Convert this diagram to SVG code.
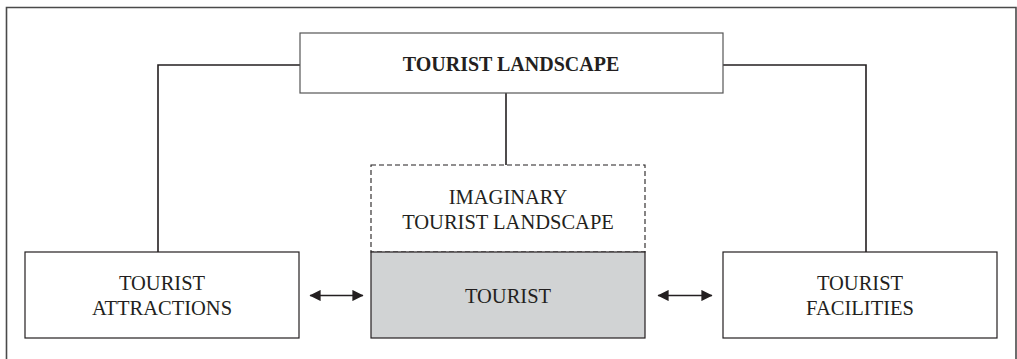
<svg xmlns="http://www.w3.org/2000/svg" width="1017" height="359" viewBox="0 0 1017 359">
<style>
text{font-family:"Liberation Serif","Times New Roman",serif;fill:#231f20;text-anchor:middle;font-size:20.5px}
.title{font-weight:bold;font-size:20px}
.box{fill:#fff;stroke:#231f20;stroke-width:1.2}
.top{fill:#fff;stroke:#555;stroke-width:1.2}
.dash{fill:#fff;stroke:#231f20;stroke-width:1.1;stroke-dasharray:5 3}
.grey{fill:#d1d3d4;stroke:#231f20;stroke-width:1.2}
.conn{fill:none;stroke:#231f20;stroke-width:1.6}
</style>
<defs>
<marker id="ah" viewBox="0 0 10 10" refX="9.5" refY="5" markerWidth="7" markerHeight="7" orient="auto-start-reverse" markerUnits="strokeWidth">
<path d="M0,0 L10,5 L0,10 z" fill="#231f20"/>
</marker>
</defs>
<rect width="1017" height="359" fill="#fff"/>
<path d="M6.5,359 V7.5 H1016 V359" fill="none" stroke="#4a4a4a" stroke-width="1.6"/>
<g id="connectors">
<path class="conn" d="M300,65 H158 V252"/>
<path class="conn" d="M723,65 H866 V252"/>
<path class="conn" d="M506,93 V165"/>
<line class="conn" x1="310" y1="295.5" x2="363" y2="295.5" marker-start="url(#ah)" marker-end="url(#ah)"/>
<line class="conn" x1="658" y1="295.5" x2="712" y2="295.5" marker-start="url(#ah)" marker-end="url(#ah)"/>
</g>
<g id="tourist-landscape">
<rect class="top" x="300" y="33" width="423" height="60"/>
<text class="title" x="511" y="71">TOURIST LANDSCAPE</text>
</g>
<g id="imaginary-tourist-landscape">
<rect class="dash" x="371" y="165" width="274" height="87"/>
<text x="508" y="203.5">IMAGINARY</text>
<text x="508" y="228.5">TOURIST LANDSCAPE</text>
</g>
<g id="tourist">
<rect class="grey" x="371" y="252" width="274" height="86"/>
<text x="508" y="303">TOURIST</text>
</g>
<g id="tourist-attractions">
<rect class="box" x="25" y="252" width="274" height="86"/>
<text x="162" y="290">TOURIST</text>
<text x="162" y="315">ATTRACTIONS</text>
</g>
<g id="tourist-facilities">
<rect class="box" x="723" y="252" width="274" height="86"/>
<text x="860" y="290">TOURIST</text>
<text x="860" y="315">FACILITIES</text>
</g>
</svg>
